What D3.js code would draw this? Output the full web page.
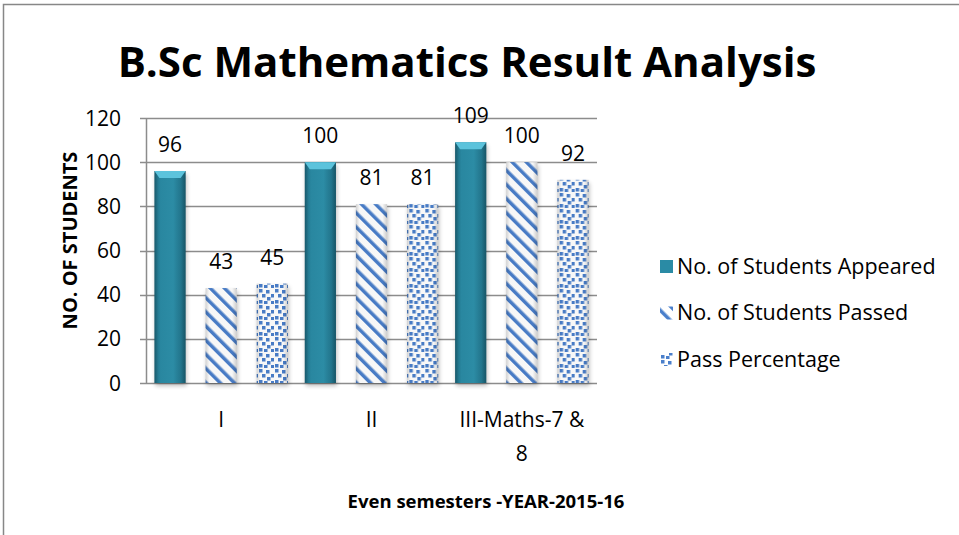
<!DOCTYPE html>
<html>
<head>
<meta charset="utf-8">
<script src="https://cdn.jsdelivr.net/npm/d3@7"></script>
<style>
  html, body { margin: 0; padding: 0; background: #fff; }
  svg { display: block; font-family: "Open Sans", sans-serif; }
  .tick-label, .cat-label, .value-label { font-size: 21px; fill: #000; }
  .legend-label { font-size: 21.5px; fill: #000; }
</style>
</head>
<body>
<svg id="chart" width="959" height="535"></svg>
<script>
const semesters = ['I', 'II', 'III-Maths-7 & 8']
const appeared = [96, 100, 109]
const passed = [43, 81, 100]
const passPercentage = [45, 81, 92]
const seriesNames = ['No. of Students Appeared', 'No. of Students Passed', 'Pass Percentage']
const yTicks = [0, 20, 40, 60, 80, 100, 120]

const width = 959
const height = 535
const margin = { left: 146, right: 362, top: 118, bottom: 152 }

const svg = d3.select('#chart')
const defs = svg.append('defs')

// teal fill, slightly darker at the edges
const teal = defs.append('linearGradient').attr('id', 'teal').attr('x1', 0).attr('x2', 1)
teal.append('stop').attr('offset', 0).attr('stop-color', '#1d6c82')
teal.append('stop').attr('offset', 0.2).attr('stop-color', '#2a8ba5')
teal.append('stop').attr('offset', 0.6).attr('stop-color', '#2d90aa')
teal.append('stop').attr('offset', 1).attr('stop-color', '#1d6a80')

const shade = defs.append('linearGradient').attr('id', 'shade').attr('x1', 0).attr('x2', 1)
shade.append('stop').attr('offset', 0).attr('stop-color', '#000').attr('stop-opacity', 0.18)
shade.append('stop').attr('offset', 0.12).attr('stop-color', '#000').attr('stop-opacity', 0.03)
shade.append('stop').attr('offset', 0.85).attr('stop-color', '#000').attr('stop-opacity', 0.03)
shade.append('stop').attr('offset', 1).attr('stop-color', '#000').attr('stop-opacity', 0.2)

const stripes = defs.append('pattern').attr('id', 'stripes')
    .attr('patternUnits', 'userSpaceOnUse')
    .attr('width', 10).attr('height', 10)
    .attr('patternTransform', 'rotate(-45)')
stripes.append('rect').attr('width', 10).attr('height', 10).attr('fill', '#fff')
stripes.append('rect').attr('width', 3.5).attr('height', 10).attr('fill', '#4a7fcb')

const dots = defs.append('pattern').attr('id', 'dots')
    .attr('patternUnits', 'userSpaceOnUse')
    .attr('width', 16).attr('height', 16)
dots.append('rect').attr('width', 16).attr('height', 16).attr('fill', '#fff')
const dotSpots = [[1, 1], [8, 2], [13, 6], [4, 6], [9, 9], [1, 12], [6, 13], [13, 13]]
dots.selectAll('rect.d').data(dotSpots).enter().append('rect')
    .attr('class', 'd')
    .attr('x', (d) => d[0]).attr('y', (d) => d[1])
    .attr('width', 3.5).attr('height', 3.5)
    .attr('fill', '#4a7fcb')

const blur = defs.append('filter').attr('id', 'blur').attr('x', '-20%').attr('y', '-20%').attr('width', '140%').attr('height', '140%')
blur.append('feGaussianBlur').attr('stdDeviation', 2)

const fills = ['url(#teal)', 'url(#stripes)', 'url(#dots)']
const legendFills = ['#2a8ba5', 'url(#stripes)', 'url(#dots)']

// outer frame
svg.append('rect')
    .attr('x', 3.5).attr('y', 4.5)
    .attr('width', width + 10).attr('height', height + 10)
    .attr('fill', 'none')
    .attr('stroke', '#878787')
    .attr('stroke-width', 1.5)

svg.append('text')
    .attr('x', 467).attr('y', 77)
    .attr('text-anchor', 'middle')
    .attr('font-size', 42)
    .attr('font-weight', 'bold')
    .text('B.Sc Mathematics Result Analysis')

const x0 = d3.scaleBand()
    .domain(semesters)
    .range([margin.left, width - margin.right])
    .padding(0)

const x1 = d3.scaleBand()
    .domain(seriesNames)
    .range([0, x0.bandwidth()])
    .paddingInner(0.39)
    .paddingOuter(0.165)

const y = d3.scaleLinear()
    .domain([0, 120])
    .range([height - margin.bottom, margin.top])

// gridlines
svg.append('g')
    .selectAll('line')
    .data(yTicks)
    .enter()
    .append('line')
    .attr('x1', margin.left - 6)
    .attr('x2', width - margin.right)
    .attr('y1', (d) => Math.round(y(d)) + 0.5)
    .attr('y2', (d) => Math.round(y(d)) + 0.5)
    .attr('stroke', '#8c8c8c')
    .attr('stroke-width', 1.5)

svg.append('line')
    .attr('x1', margin.left + 0.5).attr('x2', margin.left + 0.5)
    .attr('y1', y(120)).attr('y2', y(0))
    .attr('stroke', '#8c8c8c')
    .attr('stroke-width', 1.5)

svg.append('g')
    .selectAll('text')
    .data(yTicks)
    .enter()
    .append('text')
    .attr('class', 'tick-label')
    .attr('x', 121)
    .attr('y', (d) => y(d))
    .attr('dy', '0.36em')
    .attr('text-anchor', 'end')
    .text((d) => d)

svg.append('text')
    .attr('transform', `translate(77, ${(y(0) + y(120)) / 2 - 10}) rotate(-90)`)
    .attr('text-anchor', 'middle')
    .attr('font-size', 20)
    .attr('font-weight', 'bold')
    .text('NO. OF STUDENTS')

const rows = semesters.map((s, i) => ({
    semester: s,
    values: [appeared[i], passed[i], passPercentage[i]]
}))

const group = svg.append('g')
    .selectAll('g')
    .data(rows)
    .enter()
    .append('g')
    .attr('transform', (d) => `translate(${x0(d.semester)}, 0)`)

const bars = group.selectAll('g')
    .data((d) => d.values.map((v, i) => ({ series: seriesNames[i], idx: i, value: v })))
    .enter()
    .append('g')

// soft shadow under each bar
bars.append('rect')
    .attr('x', (d) => x1(d.series) + 1)
    .attr('y', (d) => y(d.value) + 3)
    .attr('width', x1.bandwidth())
    .attr('height', (d) => y(0) - y(d.value))
    .attr('fill', '#000')
    .attr('opacity', 0.25)
    .attr('filter', 'url(#blur)')

bars.append('rect')
    .attr('x', (d) => x1(d.series))
    .attr('y', (d) => y(d.value))
    .attr('width', x1.bandwidth())
    .attr('height', (d) => y(0) - y(d.value))
    .attr('fill', (d) => fills[d.idx])

bars.append('rect')
    .attr('x', (d) => x1(d.series))
    .attr('y', (d) => y(d.value))
    .attr('width', x1.bandwidth())
    .attr('height', (d) => y(0) - y(d.value))
    .attr('fill', 'url(#shade)')

// bevel on top of the solid bars
bars.filter((d) => d.idx === 0)
    .append('path')
    .attr('d', (d) => {
        const bx = x1(d.series)
        const bw = x1.bandwidth()
        const by = y(d.value)
        return `M${bx},${by}H${bx + bw}L${bx + bw - 5},${by + 7}H${bx + 5}Z`
    })
    .attr('fill', '#5cc3dc')

bars.append('text')
    .attr('class', 'value-label')
    .attr('x', (d) => x1(d.series) + x1.bandwidth() / 2)
    .attr('y', (d) => y(d.value) - 19)
    .attr('text-anchor', 'middle')
    .text((d) => d.value)

// category labels, wrapped to the band width
const wrapLabel = (label, maxWidth, fontSize) => {
    const words = label.split(' ')
    const lines = []
    let line = ''
    const ctx = document.createElement('canvas').getContext('2d')
    ctx.font = `${fontSize}px "Open Sans"`
    words.forEach((w) => {
        const test = line ? line + ' ' + w : w
        if (ctx.measureText(test).width > maxWidth && line) {
            lines.push(line)
            line = w
        } else {
            line = test
        }
    })
    lines.push(line)
    return lines
}

svg.append('g')
    .selectAll('text')
    .data(semesters)
    .enter()
    .append('text')
    .attr('class', 'cat-label')
    .attr('text-anchor', 'middle')
    .attr('x', (d) => x0(d) + x0.bandwidth() / 2)
    .attr('y', 427)
    .each(function (d) {
        const lines = wrapLabel(d, 138, 21)
        d3.select(this).selectAll('tspan')
            .data(lines)
            .enter()
            .append('tspan')
            .attr('x', x0(d) + x0.bandwidth() / 2)
            .attr('dy', (l, i) => i === 0 ? 0 : 34)
            .text((l) => l)
    })

svg.append('text')
    .attr('x', 486)
    .attr('y', 508)
    .attr('text-anchor', 'middle')
    .attr('font-size', 18.5)
    .attr('font-weight', 'bold')
    .text('Even semesters -YEAR-2015-16')

const legend = svg.append('g')
    .attr('transform', 'translate(660, 266)')
    .selectAll('g')
    .data(seriesNames)
    .enter()
    .append('g')
    .attr('transform', (d, i) => `translate(0, ${i * 46.5})`)

legend.append('rect')
    .attr('x', 0).attr('y', -6)
    .attr('width', 13).attr('height', 13)
    .attr('fill', (d, i) => legendFills[i])

legend.append('text')
    .attr('class', 'legend-label')
    .attr('x', 17)
    .attr('dy', '0.36em')
    .text((d) => d)
</script>
</body>
</html>
